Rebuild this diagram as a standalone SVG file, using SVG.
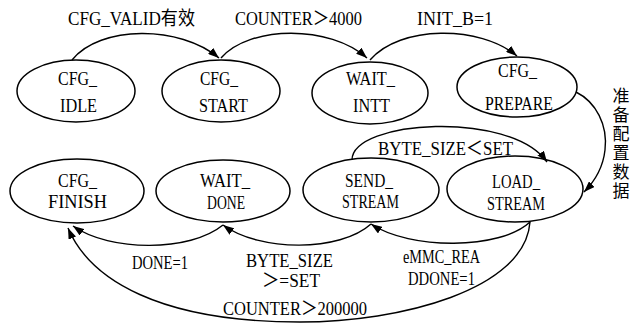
<svg xmlns="http://www.w3.org/2000/svg" width="633" height="323" viewBox="0 0 633 323">
  <style>
    .state { fill: #ffffff; stroke: #000000; stroke-width: 1.5; }
    .lbl { font-family: "Liberation Serif", "Noto Sans CJK SC", serif; font-size: 19px; fill: #000000; text-anchor: middle; }
    .vert { font-family: "Noto Sans CJK SC", "Liberation Serif", sans-serif; font-size: 17px; fill: #000000; writing-mode: vertical-rl; letter-spacing: 2px; }
    .edge { fill: none; stroke: #000000; stroke-width: 1.4; marker-end: url(#arrow); }
  </style>
  <defs>
    <marker id="arrow" viewBox="0 0 11 8" refX="11" refY="4" markerWidth="11" markerHeight="8" markerUnits="userSpaceOnUse" orient="auto">
      <path d="M0,0 L11,4 L0,8 Z" fill="#000000"/>
    </marker>
  </defs>

  <rect width="633" height="323" fill="#ffffff"/>

  <!-- state nodes -->
  <g id="cfg_idle">
    <ellipse class="state" cx="76" cy="91" rx="59" ry="31"/>
    <text class="lbl" x="77.5" y="85" textLength="39" lengthAdjust="spacingAndGlyphs">CFG_</text>
    <text class="lbl" x="78.5" y="112" textLength="37" lengthAdjust="spacingAndGlyphs">IDLE</text>
  </g>
  <g id="cfg_start">
    <ellipse class="state" cx="221" cy="91" rx="59" ry="31"/>
    <text class="lbl" x="219" y="85" textLength="38" lengthAdjust="spacingAndGlyphs">CFG_</text>
    <text class="lbl" x="223.5" y="112" textLength="49" lengthAdjust="spacingAndGlyphs">START</text>
  </g>
  <g id="wait_intt">
    <ellipse class="state" cx="370" cy="93" rx="58" ry="31"/>
    <text class="lbl" x="370.5" y="85" textLength="49" lengthAdjust="spacingAndGlyphs">WAIT_</text>
    <text class="lbl" x="371.5" y="112" textLength="37" lengthAdjust="spacingAndGlyphs">INTT</text>
  </g>
  <g id="cfg_prepare">
    <ellipse class="state" cx="517" cy="87" rx="60" ry="30"/>
    <text class="lbl" x="517.5" y="77" textLength="39" lengthAdjust="spacingAndGlyphs">CFG_</text>
    <text class="lbl" x="519" y="110" textLength="68" lengthAdjust="spacingAndGlyphs">PREPARE</text>
  </g>
  <g id="cfg_finish">
    <ellipse class="state" cx="77" cy="191" rx="67" ry="32"/>
    <text class="lbl" x="77.5" y="187" textLength="39" lengthAdjust="spacingAndGlyphs">CFG_</text>
    <text class="lbl" x="77.5" y="208" textLength="59" lengthAdjust="spacingAndGlyphs">FINISH</text>
  </g>
  <g id="wait_done">
    <ellipse class="state" cx="223" cy="191" rx="67" ry="31"/>
    <text class="lbl" x="225" y="187" textLength="50" lengthAdjust="spacingAndGlyphs">WAIT_</text>
    <text class="lbl" x="226" y="209" textLength="38" lengthAdjust="spacingAndGlyphs">DONE</text>
  </g>
  <g id="send_stream">
    <ellipse class="state" cx="371" cy="190" rx="68" ry="32"/>
    <text class="lbl" x="369" y="187" textLength="48" lengthAdjust="spacingAndGlyphs">SEND_</text>
    <text class="lbl" x="370.5" y="208" textLength="57" lengthAdjust="spacingAndGlyphs">STREAM</text>
  </g>
  <g id="load_stream">
    <ellipse class="state" cx="515" cy="189" rx="68" ry="33"/>
    <text class="lbl" x="516" y="188" textLength="48" lengthAdjust="spacingAndGlyphs">LOAD_</text>
    <text class="lbl" x="516" y="210" textLength="58" lengthAdjust="spacingAndGlyphs">STREAM</text>
  </g>

  <!-- transitions -->
  <g id="connectors">
    <path class="edge" d="M72,60 C100,25 180,25 219,58"/>
    <path class="edge" d="M221,58 C250,25 330,25 367,58"/>
    <path class="edge" d="M370,60 C400,25 480,25 517,56"/>
    <path class="edge" d="M576,92 C596,102 608,125 605,150 C603,168 594,182 584,192"/>
    <path class="edge" d="M352,160 C352,120 510,110 547,162"/>
    <path class="edge" d="M530,222 C500,250 410,250 371,224"/>
    <path class="edge" d="M371,224 C340,252 260,252 223,225"/>
    <path class="edge" d="M223,225 C190,252 110,252 73,226"/>
    <path class="edge" d="M530,222 C525,290 400,322 300,322 C160,322 90,280 68,228"/>
  </g>

  <!-- transition conditions -->
  <g id="edge_labels">
    <text class="lbl" x="131.5" y="25" textLength="127" lengthAdjust="spacingAndGlyphs">CFG_VALID有效</text>
    <text class="lbl" x="298.5" y="25" textLength="127" lengthAdjust="spacingAndGlyphs">COUNTER＞4000</text>
    <text class="lbl" x="455" y="25" textLength="76" lengthAdjust="spacingAndGlyphs">INIT_B=1</text>
    <text class="lbl" x="445.5" y="155" textLength="135" lengthAdjust="spacingAndGlyphs">BYTE_SIZE＜SET</text>
    <text class="lbl" x="160" y="269" textLength="56" lengthAdjust="spacingAndGlyphs">DONE=1</text>
    <text class="lbl" x="289.5" y="267" textLength="87" lengthAdjust="spacingAndGlyphs">BYTE_SIZE</text>
    <text class="lbl" x="291" y="287" textLength="58" lengthAdjust="spacingAndGlyphs">＞=SET</text>
    <text class="lbl" x="441.5" y="263" textLength="77" lengthAdjust="spacingAndGlyphs">eMMC_REA</text>
    <text class="lbl" x="441.5" y="285" textLength="67" lengthAdjust="spacingAndGlyphs">DDONE=1</text>
    <text class="lbl" x="295" y="315" textLength="144" lengthAdjust="spacingAndGlyphs">COUNTER＞200000</text>
    <text class="vert" x="621" y="87">准备配置数据</text>
  </g>
</svg>
